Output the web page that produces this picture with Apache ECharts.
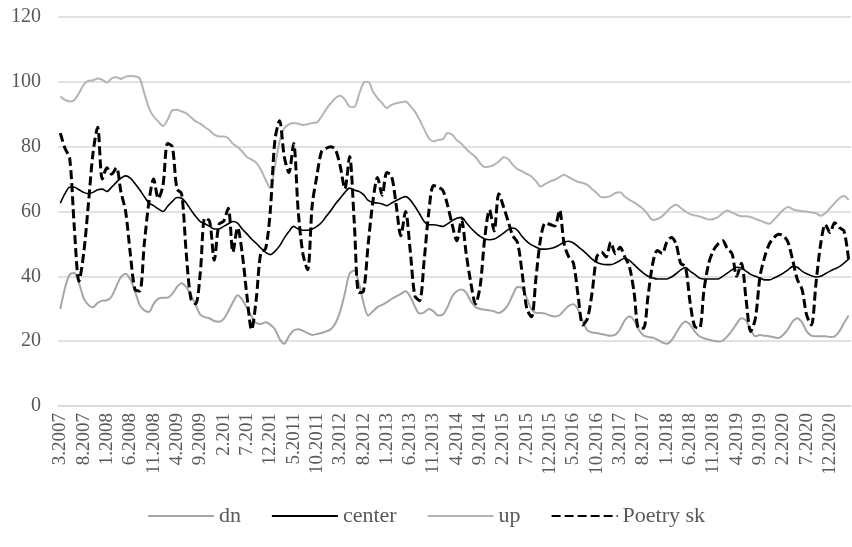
<!DOCTYPE html>
<html>
<head>
<meta charset="utf-8">
<script src="https://cdn.jsdelivr.net/npm/echarts@6/dist/echarts.min.js"></script>
<style>
html,body{margin:0;padding:0;background:#fff;}
#chart{width:852px;height:547px;}
</style>
</head>
<body>
<div id="chart"></div>
<script>
// Monthly categories: 3.2007 ... 4.2021 (170 months)
const startMonth = 3, startYear = 2007, monthCount = 170;
const categories = [];
for (let k = 0; k < monthCount; k++) {
  const m = ((startMonth - 1 + k) % 12) + 1;
  const y = startYear + Math.floor((startMonth - 1 + k) / 12);
  categories.push(m + '.' + (y === 2010 ? '201' : String(y)));
}

const seriesNames = ['dn', 'center', 'up', 'Poetry sk'];

const dn = [
29.9,36.4,40.5,41,37.9,33.3,31.2,30.5,31.8,32.5,
32.6,33.8,36.9,39.8,40.8,39,35.4,31.2,29.5,29,
31.5,33.1,33.4,33.4,34.6,36.7,37.9,36.7,34.3,31.2,
28.2,27.4,27,26.2,26,26.8,29.2,32,34.2,32.8,
30.2,27.6,25.6,25.3,25.8,25.1,23.7,20.7,19.2,21.5,
23.3,23.7,23.2,22.5,21.9,22.2,22.5,23,23.7,25.6,
29.2,34.8,40.8,41.8,37.9,31.8,27.9,29.2,30.5,31.2,
32,33,33.8,34.6,35.4,33.8,30.7,28.5,28.9,29.9,
29.2,27.9,28.2,30.5,33.8,35.4,35.9,35,32.3,30.5,
29.9,29.7,29.5,29.2,28.7,29.5,31.2,34.3,36.7,36.4,
33.3,29.9,28.7,28.7,28.5,27.9,27.6,28,29.5,30.9,
31.4,29.7,26.1,23.3,22.7,22.5,22.2,21.9,21.7,22,
23.7,26.4,27.6,26.4,23.5,21.8,21.3,21.1,20.5,19.6,
19.2,20.2,22.5,24.8,26.1,25.1,23,21.5,20.9,20.5,
20.1,19.9,20.2,21.5,23.3,25.4,27.1,26.4,23.5,21.5,
21.9,21.7,21.5,21.2,21,22,23.7,26.1,27.1,25.8,
23,21.7,21.5,21.5,21.5,21.3,21.5,23,25.6,27.9
];

const center = [
62.6,65.5,67.5,67.5,66.7,65.9,65.5,65.9,66.7,66.9,
66.2,67.5,69,70.3,71,70.3,68.6,66.7,64.6,62.6,
61.8,60.8,60,61.6,63.1,64.3,64.1,62.6,60.5,58.5,
56.9,56.2,55.4,54.6,54.6,55.4,56.2,56.9,56.4,54.6,
53.1,51.5,50.2,48.7,47.4,46.7,47.7,49.4,51.8,53.8,
55.4,54.6,54.2,54.2,54.6,55.4,56.6,58.5,60.3,62.4,
64.1,65.9,67.2,66.6,66.2,65.2,63.4,62.8,62.6,62.3,
61.8,62.6,63.4,64.1,64.6,63.6,61.6,59.3,56.9,55.9,
55.9,55.7,55.4,56.2,57.2,57.9,58.2,56.6,54.9,53.5,
52.3,51.5,51.3,51.5,52.3,53.3,54.4,54.9,54.2,52.3,
50.8,49.7,49,48.4,48.4,48.6,49,49.7,50.5,50.8,
50.3,49.2,48,46.7,45.3,44.3,43.8,43.6,43.6,44.1,
44.9,45.6,44.9,43.6,42.2,41,40,39.5,39.2,39.2,
39.2,39.8,40.8,42,42.7,41.6,40.6,39.5,39.2,39.2,
39.2,39.2,40,41,42,42.8,42.6,41.6,40.6,40,
39.5,38.9,38.9,39.5,40.2,41,42,43,42.8,41.6,
40.8,40.2,39.8,40,40.8,41.6,42.3,43,44.1,45.3
];

const up = [
95.5,94.4,93.9,94.4,96.5,99.1,100.3,100.5,101,100.6,
99.8,101.1,101.4,100.9,101.6,101.8,101.7,101.1,96.5,91.9,
89.3,87.8,86.4,88.3,91.2,91.4,90.9,90.3,89.1,87.8,
87.1,86,85,83.7,83.1,83.1,82.6,80.9,79.9,78.5,
76.8,76,75,72.9,69.8,67.2,73.9,81.6,85.7,86.9,
87.3,87.1,86.7,86.9,87.3,87.5,89.3,91.6,93.4,95,
95.7,94.5,92.4,92.2,96,99.6,100,97,95,93.4,
91.9,92.9,93.4,93.7,93.9,92.6,90.9,88.3,85.4,82.6,
81.6,82.1,82.3,84.2,83.7,82,80.9,79.3,78,76.8,
74.9,73.7,73.9,74.4,75.4,76.7,76.2,74.4,73.1,72.4,
71.6,70.8,69.3,67.7,68.5,69.3,69.8,70.6,71.3,70.6,
69.8,69.1,68.8,68.2,66.9,65.7,64.4,64.4,64.8,65.7,
65.9,64.6,63.6,62.8,61.8,60.7,59,57.4,57.7,58.5,
60,61.4,62.1,61.1,60,59.2,58.8,58.5,58,57.5,
57.7,58.3,59.5,60.3,59.7,59,58.5,58.5,58.3,57.7,
57.2,56.6,56.2,57.5,59,60.5,61.4,60.7,60.3,60.1,
60,59.7,59.5,58.7,59.5,61,62.6,64.1,64.8,63.6
];

const poetrySk = [
84.2,79.5,76.5,55,38.5,47,62,78,86,70,
73.5,71.5,73.5,66,60,47,36,35.5,50,63,
70,64,68,81,80,67,65.5,47,33,31.5,
41,58,57,45,56,57,61,47.5,55,47,
34,23.5,33,47.5,48.5,60,82,88,77,72,
81,60,47,42,62,71,78.5,79.5,80,79,
74,67,77,57,35,35.5,50,63,70.5,65,
72,71,62,52.5,60,48,34,32.5,45,60,
68,67.5,66.5,62,56,51,57.5,47,38,31.5,
37,52,60.5,54,65.5,61.5,57,52.5,50.5,41,
30,27.5,40,52,56.5,56,55.5,60.5,50,46,
44,34,25,27,35,46,47.5,46,50.5,47,
49,46,43,35,24,24,34,44,48,47,
50.5,52,50,44,43,32,24.5,24,36,44,
48,50,51,48.5,47,40,44,33,23,27,
40,46,50,52,53,52.5,50.5,45,39,36,
28,25,38,50,56,53.5,56.5,55,54,45
];

const yTicks = { min: 0, max: 120, interval: 20 };

const font = 'Liberation Serif, Times New Roman, serif';
const textColor = '#595959';
const gridColor = '#d9d9d9';

const chart = echarts.init(document.getElementById('chart'), null, { renderer: 'canvas' });

function lineSeries(name, data, color, width, type, z) {
  return {
    name: name,
    type: 'line',
    data: data,
    symbol: 'none',
    showSymbol: false,
    smooth: 0.3,
    z: z,
    lineStyle: { color: color, width: width, type: type, cap: 'butt' },
    itemStyle: { color: color },
    emphasis: { disabled: true }
  };
}

chart.setOption({
  animation: false,
  backgroundColor: '#ffffff',
  grid: { left: 58, right: 1, top: 17, bottom: 141, containLabel: false },
  legend: {
    data: seriesNames,
    left: 'center',
    top: 500,
    itemWidth: 66,
    itemHeight: 14,
    itemGap: 30,
    itemStyle: { opacity: 0, borderWidth: 0 },
    textStyle: { fontFamily: font, fontSize: 22, color: textColor }
  },
  xAxis: {
    type: 'category',
    data: categories,
    boundaryGap: true,
    axisLine: { show: true, lineStyle: { color: gridColor, width: 1.5 } },
    axisTick: { show: false },
    axisLabel: {
      interval: 4,
      rotate: 90,
      margin: 7,
      fontFamily: font,
      fontSize: 19,
      color: textColor
    },
    splitLine: { show: false }
  },
  yAxis: {
    type: 'value',
    min: yTicks.min,
    max: yTicks.max,
    interval: yTicks.interval,
    axisLine: { show: false },
    axisTick: { show: false },
    axisLabel: { margin: 17, fontFamily: font, fontSize: 20, color: textColor },
    splitLine: { lineStyle: { color: gridColor, width: 1.5 } }
  },
  series: [
    lineSeries('dn', dn, '#a5a5a5', 2, 'solid', 2),
    lineSeries('center', center, '#000000', 1.6, 'solid', 3),
    lineSeries('up', up, '#b4b4b4', 2, 'solid', 2),
    lineSeries('Poetry sk', poetrySk, '#000000', 3, [9, 4], 4)
  ]
});
</script>
</body>
</html>
